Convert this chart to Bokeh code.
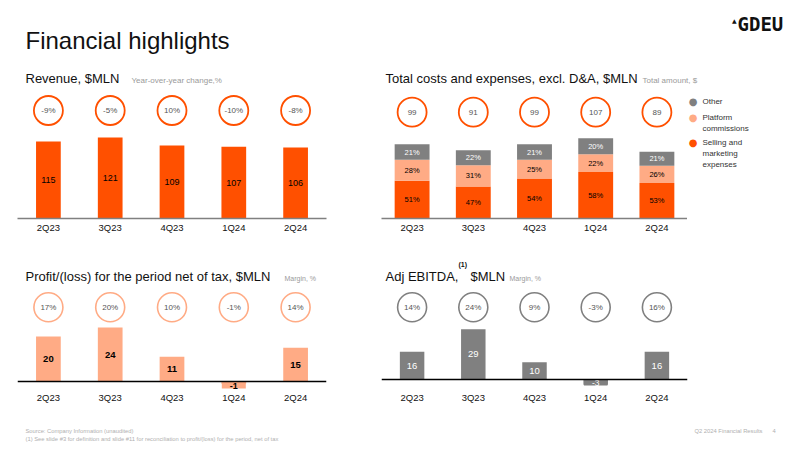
from bokeh.plotting import figure
from bokeh.layouts import column, row
from bokeh.models import Label, Span, Range1d, ColumnDataSource
from bokeh.core.properties import value
from bokeh.embed import file_html
from bokeh.resources import INLINE

# ---------------- data ----------------
quarters = ["2Q23", "3Q23", "4Q23", "1Q24", "2Q24"]
revenue = [115, 121, 109, 107, 106]
revenue_yoy = ["-9%", "-5%", "10%", "-10%", "-8%"]
cost_total = [99, 91, 99, 107, 89]
cost_sm_pct = [51, 47, 54, 58, 53]
cost_platform_pct = [28, 31, 25, 22, 26]
cost_other_pct = [21, 22, 21, 20, 21]
profit = [20, 24, 11, -1, 15]
profit_margin = ["17%", "20%", "10%", "-1%", "14%"]
ebitda = [16, 29, 10, -3, 16]
ebitda_margin = ["14%", "24%", "9%", "-3%", "16%"]
legend_labels = [["Other"], ["Platform", "commissions"], ["Selling and", "marketing", "expenses"]]

ORANGE = "#FF5000"
PEACH = "#FFAB85"
GREY = "#808080"
FONT = "Liberation Sans"


def base_fig(width, height, left, right, top, bottom, y0, y1, cats=True):
    kw = dict(width=width, height=height, output_backend="svg", toolbar_location=None,
              min_border_left=left, min_border_right=right, min_border_top=top,
              min_border_bottom=bottom, y_range=Range1d(y0, y1), y_axis_location=None,
              title=None, background_fill_color="white", border_fill_color="white")
    if cats:
        kw["x_range"] = quarters
    else:
        kw["x_range"] = Range1d(0, 1)
        kw["x_axis_location"] = None
    p = figure(**kw)
    p.grid.visible = False
    p.outline_line_color = None
    if cats:
        ax = p.xaxis[0]
        ax.major_tick_line_color = None
        ax.minor_tick_line_color = None
        ax.major_tick_out = 0
        ax.major_label_text_font = FONT
        ax.major_label_text_font_size = "9.5px"
        ax.major_label_text_color = "#111111"
    return p


def add_text(p, origin, px, py, text, size, color="#000000", style="normal",
             font=FONT, align="left", baseline="alphabetic"):
    """px, py: page position; for 'alphabetic' py is the text baseline."""
    fl, fb = origin
    if baseline == "alphabetic":
        py = py - 0.35 * size
        baseline = "middle"
    p.add_layout(Label(x=px - fl, y=fb - py, x_units="screen", y_units="screen", text=text,
                       text_font=font, text_font_size=f"{size}px", text_color=color,
                       text_font_style=style, text_align=align, text_baseline=baseline))


def circles(p, yc, labels, color, width=1.8):
    src = ColumnDataSource(dict(x=quarters, y=[yc] * len(quarters), t=labels))
    p.scatter(x="x", y="y", source=src, marker="circle", size=29, fill_color="white",
              line_color=color, line_width=width)
    p.text(x="x", y="y", text="t", source=src, text_align="center", text_baseline="middle",
           text_font=value(FONT), text_font_size="8px", text_color="#555555")


# ---------------- header (page y 0..92) ----------------
header = base_fig(800, 92, 0, 0, 0, 0, 0, 1, cats=False)
H0 = (0, 92)
add_text(header, H0, 25, 48, "Financial highlights", 24, color="#111111")
add_text(header, H0, 737, 30, "GDEU", 19, style="bold", font="DejaVu Sans Mono", color="#111111")
add_text(header, H0, 731.5, 19.5, "\u25B2", 6, font="DejaVu Sans", color="#111111", baseline="middle")
add_text(header, H0, 25, 83, "Revenue, $MLN", 13, color="#111111")
add_text(header, H0, 131, 83, "Year-over-year change,%", 8, color="#9a9a9a")
add_text(header, H0, 385, 83, "Total costs and expenses, excl. D&A, $MLN", 13, color="#111111")
add_text(header, H0, 642, 83, "Total amount, $", 8, color="#9a9a9a")

# ---------------- revenue (page y 92..240) ----------------
rev_scale = 0.67
rev = base_fig(380, 148, 17, 54, 0, 22, 0, 126 / rev_scale)
rev.xaxis.axis_line_color = GREY
rev.xaxis.axis_line_width = 1.5
rev.xaxis.major_label_standoff = 3
rsrc = ColumnDataSource(dict(x=quarters, top=revenue, mid=[v / 2 for v in revenue],
                             t=[str(v) for v in revenue]))
rev.vbar(x="x", top="top", bottom=0, width=0.4, source=rsrc, fill_color=ORANGE, line_color=None)
rev.text(x="x", y="mid", text="t", source=rsrc, text_align="center", text_baseline="middle",
         text_font=value(FONT), text_font_size="9px", text_color="#000000")
circles(rev, (218 - 110) / rev_scale, revenue_yoy, ORANGE)

# ---------------- costs ----------------
c_scale = 0.75
cost = base_fig(307, 148, 1, 0, 0, 22, 0, 126 / c_scale)
cost.xaxis.axis_line_color = GREY
cost.xaxis.axis_line_width = 1.5
cost.xaxis.major_label_standoff = 3
sm = [t * p_ / 100 for t, p_ in zip(cost_total, cost_sm_pct)]
pl = [t * p_ / 100 for t, p_ in zip(cost_total, cost_platform_pct)]
ot = [t * p_ / 100 for t, p_ in zip(cost_total, cost_other_pct)]
segs = [
    (cost_sm_pct, [0] * 5, sm, ORANGE, "#000000"),
    (cost_platform_pct, sm, [a + b for a, b in zip(sm, pl)], PEACH, "#000000"),
    (cost_other_pct, [a + b for a, b in zip(sm, pl)], [a + b + c for a, b, c in zip(sm, pl, ot)], GREY, "#FFFFFF"),
]
for pct, bot, top, col, tcol in segs:
    s = ColumnDataSource(dict(x=quarters, bottom=bot, top=top, mid=[(a + b) / 2 for a, b in zip(bot, top)],
                              t=[f"{v}%" for v in pct]))
    cost.vbar(x="x", bottom="bottom", top="top", width=0.57, source=s, fill_color=col, line_color=None)
    cost.text(x="x", y="mid", text="t", source=s, text_align="center", text_baseline="middle",
              text_font=value(FONT), text_font_size="7.5px", text_color=tcol)
circles(cost, (218 - 111.7) / c_scale, [str(v) for v in cost_total], ORANGE)

# ---------------- legend strip (page x 687..800; frame aligned to row: y 92..218) ----------------
leg = base_fig(113, 148, 0, 0, 0, 22, 0, 1, cats=False)
L0 = (687, 218)
leg_colors = [GREY, PEACH, ORANGE]
leg_y = [101.3, 116.7, 142.3]
for lines, col, y in zip(legend_labels, leg_colors, leg_y):
    add_text(leg, L0, 692.5, y, "\u25CF", 10, color=col, font="DejaVu Sans", align="center", baseline="middle")
    for k, ln in enumerate(lines):
        add_text(leg, L0, 702, y + k * 10.9, ln, 8, color="#333333", baseline="middle")

# ---------------- middle title strip (page y 240..290) ----------------
mid = base_fig(800, 50, 0, 0, 0, 0, 0, 1, cats=False)
M0 = (0, 290)
add_text(mid, M0, 25, 281, "Profit/(loss) for the period net of tax, $MLN", 13, color="#111111")
add_text(mid, M0, 284, 280, "Margin, %", 7, color="#9a9a9a")
add_text(mid, M0, 385, 281, "Adj EBITDA,", 13, color="#111111")
add_text(mid, M0, 458, 266, "(1)", 7, color="#111111", style="bold")
add_text(mid, M0, 470, 281, "$MLN", 13, color="#111111")
add_text(mid, M0, 509, 280, "Margin, %", 7, color="#9a9a9a")

# ---------------- profit (page y 290..415) ----------------
p_scale = 2.25
prof = base_fig(380, 125, 17, 54, 0, 24, -(391 - 381) / p_scale, (381 - 290) / p_scale)
prof.xaxis.axis_line_color = None
prof.xaxis.major_label_standoff = 0
prof.add_layout(Span(location=0, dimension="width", line_color="#000000", line_width=1.5))
psrc = ColumnDataSource(dict(x=quarters, top=profit))
prof.vbar(x="x", top="top", bottom=0, width=0.4, source=psrc, fill_color=PEACH, line_color=None)
pos = [i for i, v in enumerate(profit) if v >= 0]
neg = [i for i, v in enumerate(profit) if v < 0]
pp = ColumnDataSource(dict(x=[quarters[i] for i in pos], y=[profit[i] / 2 for i in pos],
                           t=[str(profit[i]) for i in pos]))
prof.text(x="x", y="y", text="t", source=pp, text_align="center", text_baseline="middle",
          text_font=value(FONT), text_font_size="9.5px", text_color="#000000", text_font_style="bold")
pn = ColumnDataSource(dict(x=[quarters[i] for i in neg], y=[0] * len(neg), t=[str(profit[i]) for i in neg]))
prof.text(x="x", y="y", text="t", source=pn, text_align="center", text_baseline="top", y_offset=1,
          text_font=value(FONT), text_font_size="9px", text_color="#000000", text_font_style="bold",
          background_fill_color=PEACH, padding=(8, 0))
circles(prof, (381 - 306.7) / p_scale, profit_margin, PEACH, width=1.6)

# ---------------- EBITDA ----------------
e_scale = 1.73
ebit = base_fig(420, 125, 1, 113, 0, 24, -(391 - 379) / e_scale, (379 - 290) / e_scale)
ebit.xaxis.axis_line_color = None
ebit.xaxis.major_label_standoff = 0
ebit.add_layout(Span(location=0, dimension="width", line_color="#000000", line_width=1.5))
esrc = ColumnDataSource(dict(x=quarters, top=ebitda))
ebit.vbar(x="x", top="top", bottom=0, width=0.4, source=esrc, fill_color=GREY, line_color=None)
pos = [i for i, v in enumerate(ebitda) if v >= 0]
neg = [i for i, v in enumerate(ebitda) if v < 0]
ep = ColumnDataSource(dict(x=[quarters[i] for i in pos], y=[ebitda[i] / 2 for i in pos],
                           t=[str(ebitda[i]) for i in pos]))
ebit.text(x="x", y="y", text="t", source=ep, text_align="center", text_baseline="middle",
          text_font=value(FONT), text_font_size="9.5px", text_color="#FFFFFF")
en = ColumnDataSource(dict(x=[quarters[i] for i in neg], y=[0] * len(neg), t=[str(ebitda[i]) for i in neg]))
ebit.text(x="x", y="y", text="t", source=en, text_align="center", text_baseline="top", y_offset=0,
          text_font=value(FONT), text_font_size="8.5px", text_color="#FFFFFF",
          background_fill_color=GREY, padding=(8, 0))
circles(ebit, (379 - 306.7) / e_scale, ebitda_margin, GREY, width=1.6)

# ---------------- footer (page y 415..450) ----------------
footer = base_fig(800, 35, 0, 0, 0, 0, 0, 1, cats=False)
F0 = (0, 450)
add_text(footer, F0, 25, 433, "Source: Company Information (unaudited)", 5.8, color="#b0b0b0")
add_text(footer, F0, 25, 441, "(1) See slide #3 for definition and slide #11 for reconciliation to profit/(loss) for the period, net of tax", 5.8, color="#b0b0b0")
add_text(footer, F0, 694, 433, "Q2 2024 Financial Results", 5.8, color="#b0b0b0")
add_text(footer, F0, 772, 433, "4", 5.8, color="#b0b0b0")

layout = column(header,
                row(rev, cost, leg, spacing=0),
                mid,
                row(prof, ebit, spacing=0),
                footer, spacing=0)
open("out.html", "w").write(file_html(layout, INLINE))
